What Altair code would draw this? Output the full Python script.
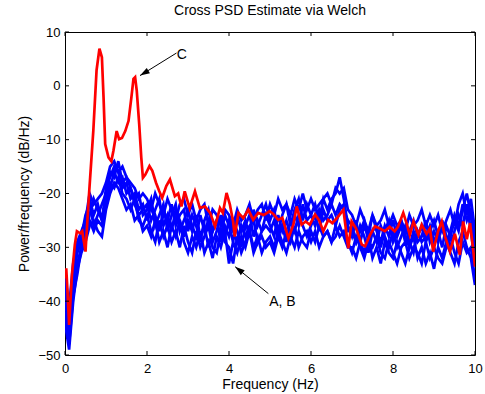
import altair as alt
import numpy as np
import pandas as pd

# ---------------- data ----------------
red_f = [0, 0.03, 0.06, 0.1, 0.17, 0.24, 0.29, 0.37, 0.42, 0.5, 0.58, 0.69, 0.77, 0.84, 0.9,
         0.94, 0.98, 1.06, 1.13, 1.18, 1.26, 1.32, 1.39, 1.47, 1.55, 1.62, 1.67, 1.71, 1.75, 1.81,
         1.86, 1.9, 1.96, 2.06, 2.13, 2.22, 2.3, 2.37, 2.47, 2.56, 2.68, 2.76, 2.84, 2.92, 3.04,
         3.17, 3.29, 3.41, 3.54, 3.66, 3.78, 3.85, 3.94, 4.02, 4.1, 4.14, 4.23, 4.35, 4.47, 4.59,
         4.71, 4.85, 4.99, 5.08, 5.2, 5.3, 5.45, 5.57, 5.65, 5.77, 5.87, 5.97, 6.1, 6.2, 6.3,
         6.42, 6.52, 6.63, 6.79, 6.91, 6.99, 7.1, 7.24, 7.32, 7.44, 7.56, 7.68, 7.8, 7.92, 8.04,
         8.12, 8.25, 8.33, 8.41, 8.5, 8.62, 8.7, 8.82, 8.9, 8.98, 9.1, 9.19, 9.27, 9.39, 9.51,
         9.63, 9.71, 9.8, 9.88, 9.96, 10]
red_db = [-35.8, -33.9, -38, -44.4, -35, -29.5, -27, -27.4, -27, -30.8, -20.8, -8.4, 2.9, 6.9, 5.3,
          -2.1, -10.8, -13.3, -14, -12.1, -8.4, -9.9, -9.7, -8.4, -6.5, -2.1, 1.3, 1.6, -0.9, -7.1,
          -13.3, -17.1, -16.5, -14.9, -15.8, -18, -19.6, -20.8, -18.6, -17.4, -20.5, -20, -22.4, -19.6, -22.7,
          -19.6, -22.7, -22.4, -23.6, -26.1, -22.7, -23.6, -19.9, -22, -25.2, -28, -23.6, -24.6, -23, -24.9,
          -23.6, -24, -23.3, -23.8, -24.9, -24.5, -28.3, -25.8, -22.4, -25.8, -25.2, -25.8, -23.9, -25, -27,
          -24.9, -25.5, -24.6, -23, -30.2, -25.2, -26.5, -29.5, -29.8, -27.7, -26.1, -26.5, -27, -26.2, -27,
          -26.2, -23.6, -25.5, -27.7, -25.2, -27.7, -25.8, -27.5, -26.5, -30.8, -27, -25.2, -28, -30.8, -27.5,
          -31.4, -25.2, -28.5, -25.5, -30.8, -33.6]

# six blue spectra, sampled every 0.1 Hz from 0 to 10 Hz
blue1 = [-38, -47, -36, -31, -29, -26, -21, -24, -22, -25,
         -19, -17, -15, -16, -19, -18, -21, -20, -23, -22,
         -25, -22, -24, -27, -23, -25, -22, -26, -24, -23,
         -27, -24, -26, -29, -25, -23, -27, -25, -28, -24,
         -26, -29, -24, -27, -25, -28, -23, -26, -24, -22,
         -25, -23, -27, -24, -22, -26, -23, -21, -25, -22,
         -24, -22, -25, -21, -23, -21, -20, -17, -21, -26,
         -28, -25, -29, -26, -28, -24, -27, -29, -26, -28,
         -25, -28, -26, -29, -27, -25, -28, -26, -29, -27,
         -25, -28, -26, -29, -27, -24, -26, -22, -25, -23,
         -29]
blue2 = [-44, -49, -40, -34, -31, -29, -26, -25, -27, -28,
         -23, -20, -18, -19, -21, -23, -22, -25, -24, -27,
         -26, -28, -25, -29, -27, -30, -26, -28, -25, -29,
         -31, -28, -30, -27, -31, -29, -32, -28, -30, -27,
         -33, -29, -31, -28, -30, -27, -31, -29, -28, -30,
         -29, -31, -28, -30, -27, -29, -26, -30, -28, -27,
         -29, -27, -30, -28, -27, -29, -28, -26, -28, -30,
         -30, -32, -29, -31, -28, -32, -30, -33, -29, -31,
         -32, -29, -31, -33, -30, -28, -32, -30, -33, -31,
         -34, -30, -32, -29, -31, -33, -29, -27, -30, -32,
         -37]
blue3 = [-40, -45, -38, -33, -30, -27, -24, -21, -23, -25,
         -21, -19, -16, -18, -17, -20, -19, -22, -24, -23,
         -22, -25, -23, -21, -26, -24, -27, -23, -25, -28,
         -25, -27, -24, -28, -26, -30, -27, -25, -29, -26,
         -28, -25, -27, -30, -26, -24, -28, -25, -27, -26,
         -27, -25, -28, -26, -29, -25, -27, -24, -26, -28,
         -26, -24, -27, -23, -25, -24, -26, -23, -22, -27,
         -27, -29, -26, -28, -31, -27, -29, -26, -28, -30,
         -27, -30, -28, -26, -29, -31, -27, -29, -28, -26,
         -29, -27, -30, -26, -28, -25, -27, -23, -20, -24,
         -31]
blue4 = [-36, -43, -34, -30, -28, -24, -22, -26, -24, -22,
         -20, -16, -17, -14, -18, -17, -19, -21, -20, -24,
         -23, -21, -26, -24, -22, -27, -24, -22, -27, -25,
         -23, -26, -28, -24, -27, -25, -29, -27, -24, -28,
         -25, -27, -29, -26, -28, -26, -25, -29, -27, -24,
         -26, -28, -24, -27, -25, -28, -24, -26, -22, -25,
         -24, -26, -23, -25, -24, -22, -24, -22, -23, -25,
         -26, -29, -27, -25, -29, -27, -26, -30, -27, -25,
         -29, -27, -25, -28, -30, -27, -29, -28, -25, -29,
         -27, -29, -25, -28, -30, -27, -24, -26, -22, -27,
         -33]
blue5 = [-42, -48, -39, -35, -30, -28, -25, -27, -25, -26,
         -22, -18, -19, -17, -20, -21, -23, -21, -25, -26,
         -24, -27, -29, -25, -28, -26, -29, -27, -30, -26,
         -29, -31, -27, -30, -28, -26, -30, -31, -27, -29,
         -30, -33, -28, -31, -29, -27, -30, -28, -31, -29,
         -28, -30, -27, -29, -31, -28, -30, -27, -29, -30,
         -27, -29, -26, -28, -27, -29, -26, -28, -27, -29,
         -31, -28, -30, -32, -29, -30, -28, -31, -32, -29,
         -31, -33, -30, -29, -32, -30, -31, -33, -29, -32,
         -30, -32, -33, -30, -28, -31, -33, -29, -31, -30,
         -36]
blue6 = [-35, -41, -33, -29, -27, -25, -20, -22, -21, -20,
         -18, -15, -14, -16, -15, -17, -18, -19, -21, -20,
         -21, -23, -20, -22, -24, -21, -23, -25, -22, -21,
         -24, -22, -25, -23, -22, -26, -23, -24, -26, -23,
         -24, -26, -23, -25, -24, -22, -25, -23, -22, -25,
         -22, -24, -21, -23, -22, -24, -21, -23, -20, -23,
         -21, -23, -22, -21, -20, -22, -19, -20, -19, -23,
         -24, -26, -23, -25, -27, -24, -26, -25, -23, -26,
         -24, -26, -25, -27, -24, -26, -25, -23, -26, -24,
         -26, -24, -27, -25, -23, -26, -22, -20, -24, -21,
         -27]
blue_series = [blue1, blue2, blue3, blue4, blue5, blue6]

x_ticks = [0, 2, 4, 6, 8, 10]
y_ticks = [-50, -40, -30, -20, -10, 0, 10]

# annotations: arrow tail (f, dB) -> tip (f, dB), label
ann_label = ["C", "A, B"]
ann_tail_f = [2.72, 4.96]
ann_tail_db = [6.1, -38.6]
ann_tip_f = [1.83, 4.15]
ann_tip_db = [1.9, -33.6]
ann_text_f = [2.85, 4.98]
ann_text_db = [5.7, -40.1]
ann_angle = [238.7, 308.7]

# ---------------- tables ----------------
rows = []
for k, vals in enumerate(blue_series):
    fs = np.linspace(0, 10, len(vals))
    for f, v in zip(fs, vals):
        rows.append({"f": float(f), "db": v, "s": f"b{k}"})
blue_df = pd.DataFrame(rows)
red_df = pd.DataFrame({"f": red_f, "db": red_db})
ann_df = pd.DataFrame({"label": ann_label, "tf": ann_tail_f, "tdb": ann_tail_db,
                       "hf": ann_tip_f, "hdb": ann_tip_db, "xf": ann_text_f, "xdb": ann_text_db,
                       "ang": ann_angle})
xt_df = pd.DataFrame({"t": x_ticks})
yt_df = pd.DataFrame({"t": y_ticks})

W, H = 410, 323
FONT = "Liberation Sans"

xs = alt.Scale(domain=[0, 10], nice=False, zero=False)
ys = alt.Scale(domain=[-50, 10], nice=False, zero=False)

axis_style = dict(labelFont=FONT, titleFont=FONT, labelFontSize=13, titleFontSize=14,
                  labelColor="black", titleColor="black", titleFontWeight="normal",
                  tickSize=0, grid=False, domain=False, labelFlush=False)
xax = alt.Axis(values=x_ticks, labelPadding=7, title="Frequency (Hz)", titlePadding=2, **axis_style)
yax = alt.Axis(values=y_ticks, labelPadding=5, title="Power/frequency (dB/Hz)", titlePadding=6, **axis_style)

blue = alt.Chart(blue_df).mark_line(color="#0000FF", strokeWidth=2.7, clip=True).encode(
    x=alt.X("f:Q", scale=xs, axis=xax),
    y=alt.Y("db:Q", scale=ys, axis=yax),
    detail="s:N",
)
red = alt.Chart(red_df).mark_line(color="#FF0000", strokeWidth=2.7, clip=True).encode(
    x=alt.X("f:Q", scale=xs), y=alt.Y("db:Q", scale=ys)
)

tick_bottom = alt.Chart(xt_df).mark_rule(color="black", strokeWidth=1).encode(
    x=alt.X("t:Q", scale=xs), y=alt.value(H), y2=alt.value(H - 4))
tick_top = alt.Chart(xt_df).mark_rule(color="black", strokeWidth=1).encode(
    x=alt.X("t:Q", scale=xs), y=alt.value(0), y2=alt.value(4))
tick_left = alt.Chart(yt_df).mark_rule(color="black", strokeWidth=1).encode(
    y=alt.Y("t:Q", scale=ys), x=alt.value(0), x2=alt.value(4))
tick_right = alt.Chart(yt_df).mark_rule(color="black", strokeWidth=1).encode(
    y=alt.Y("t:Q", scale=ys), x=alt.value(W), x2=alt.value(W - 4))

arrow_line = alt.Chart(ann_df).mark_rule(color="black", strokeWidth=1).encode(
    x=alt.X("tf:Q", scale=xs), y=alt.Y("tdb:Q", scale=ys),
    x2="hf:Q", y2="hdb:Q")
arrow_head = alt.Chart(ann_df).mark_point(
    shape="M0,0L-0.32,1L0.32,1Z", filled=True, color="black", opacity=1, size=380, strokeWidth=0
).encode(
    x=alt.X("hf:Q", scale=xs), y=alt.Y("hdb:Q", scale=ys),
    angle=alt.Angle("ang:Q", scale=None))

text_c = alt.Chart(ann_df.iloc[[0]]).mark_text(
    font=FONT, fontSize=14, align="center", baseline="middle", color="black").encode(
    x=alt.X("xf:Q", scale=xs), y=alt.Y("xdb:Q", scale=ys), text="label:N")
text_ab = alt.Chart(ann_df.iloc[[1]]).mark_text(
    font=FONT, fontSize=14, align="left", baseline="middle", color="black").encode(
    x=alt.X("xf:Q", scale=xs), y=alt.Y("xdb:Q", scale=ys), text="label:N")

chart = alt.layer(
    blue, red, tick_bottom, tick_top, tick_left, tick_right, arrow_line, arrow_head, text_c, text_ab
).properties(
    width=W, height=H,
    title=alt.TitleParams("Cross PSD Estimate via Welch", font=FONT, fontSize=14,
                          fontWeight="normal", color="black", anchor="middle", offset=8),
    autosize=alt.AutoSizeParams(type="none"),
    padding={"left": 65, "top": 32, "right": 10, "bottom": 39},
    background="white",
).configure_view(
    stroke="black", strokeWidth=1
)

chart.save("out.html", embed_options={"renderer": "svg", "actions": False})
